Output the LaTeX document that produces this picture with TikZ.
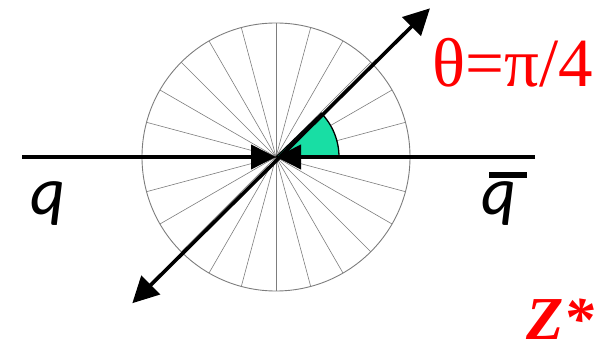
\documentclass[tikz,border=0pt]{standalone}
\usepackage{fontspec}
\setmainfont{Liberation Serif}
\newfontfamily\quarkfont{Carlito}
\usetikzlibrary{arrows.meta}
\definecolor{wedgegreen}{RGB}{24,222,164}
\definecolor{spokegray}{RGB}{125,125,125}

\begin{document}
\begin{tikzpicture}[
    x=1pt, y=1pt,
    spoke/.style={draw=spokegray, line width=0.6pt},
    quark/.style={line width=3.8pt, -{Triangle[length=25pt, width=24pt]}},
    axisline/.style={line width=3.6pt, {Triangle[length=26pt, width=26pt]}-{Triangle[length=26pt, width=26pt]}},
    txt/.style={anchor=base west, inner sep=0pt},
]
    \useasboundingbox (0,0) rectangle (608,353);
    \coordinate (o) at (276,196);
    \coordinate (qin) at (22,196);
    \coordinate (qbarin) at (535,196);
    \coordinate (pA) at ([shift={(44:214)}]o);
    \coordinate (pB) at ([shift={(225.5:205)}]o);

    \draw[spokegray, line width=0.9pt] (o) circle[radius=134];
    \foreach \a in {0,15,...,345}
        \draw[spoke] (o) -- ++(\a:134);

    \filldraw[fill=wedgegreen, draw=black, line width=1.3pt] (o) -- ++(0:63) arc[start angle=0, end angle=44, radius=63] -- cycle;

    \draw[quark] (qin) -- (o);
    \draw[quark] (qbarin) -- (o);
    \draw[axisline] (pB) -- (pA);

    \node[txt, text=red, font=\fontsize{69}{69}\selectfont] (theta) at (432,266) {θ=π/4};
    \node[txt, font=\quarkfont\itshape\fontsize{68}{68}\selectfont] (q) at (30,138) {q};
    \node[txt, font=\quarkfont\itshape\fontsize{68}{68}\selectfont] (qbar) at (481,138) {\makebox[0pt][l]{\hspace{8pt}\rule[37pt]{38pt}{5.5pt}}q};
    \node[txt, text=red, font=\bfseries\itshape\fontsize{61}{61}\selectfont] (zstar) at (526,13) {Z*};
\end{tikzpicture}
\end{document}
